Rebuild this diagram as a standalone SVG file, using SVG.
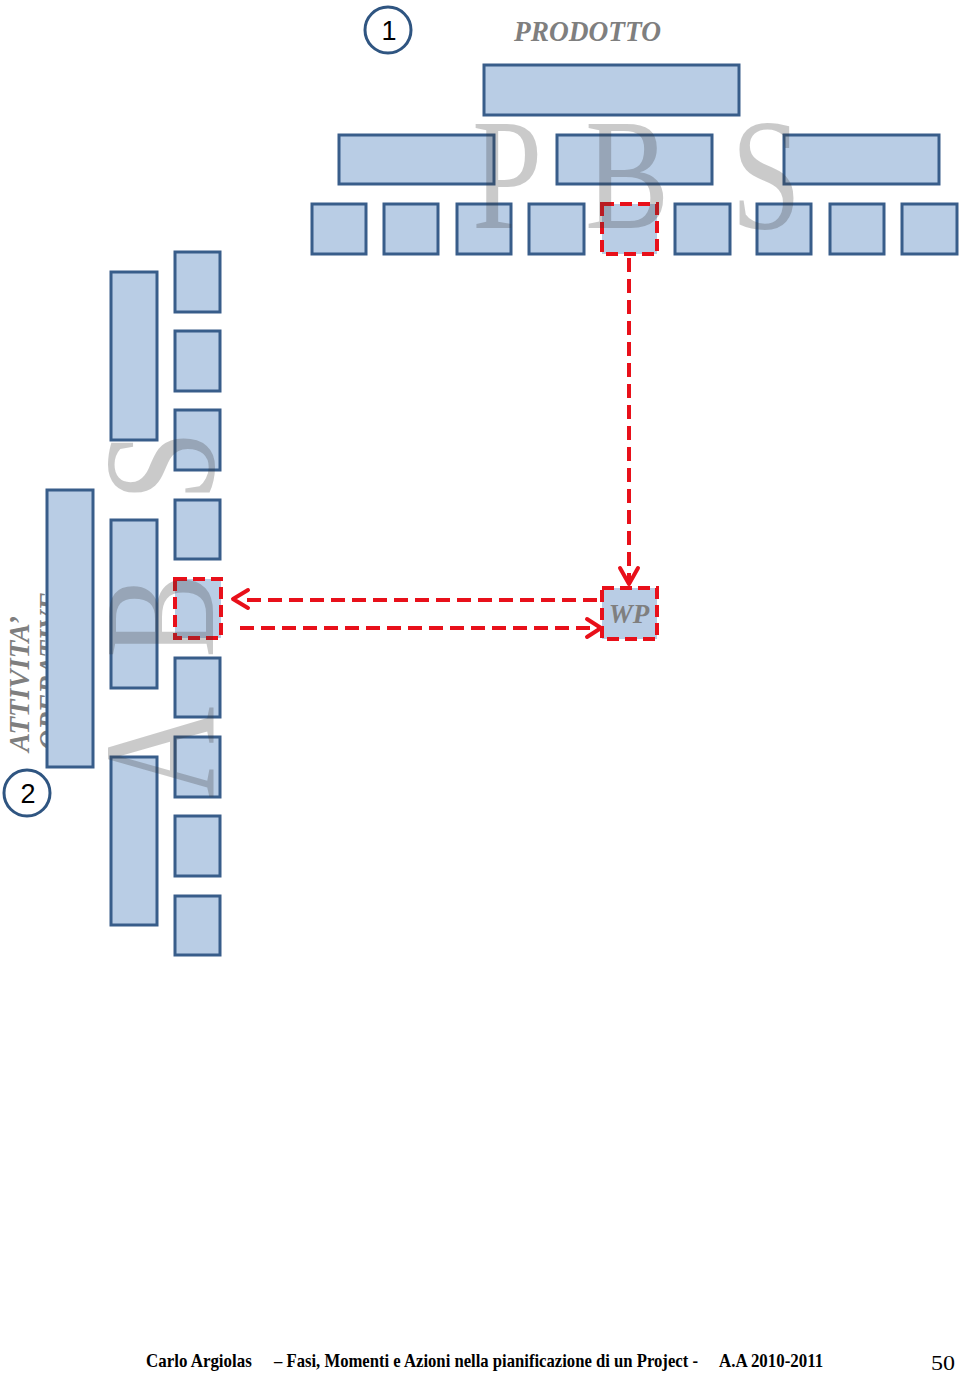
<svg xmlns="http://www.w3.org/2000/svg" width="960" height="1374" viewBox="0 0 960 1374">
<style>
.box{fill:#b9cde5;stroke:#385d8a;stroke-width:3}
.sel{fill:#b9cde5;stroke:#e8101a;stroke-width:4;stroke-dasharray:12 6}
.wm{font-family:"Liberation Serif",serif;font-size:158px;fill:#3a3a3a;fill-opacity:0.27}
.circ{fill:#ffffff;stroke:#2f5581;stroke-width:3}
.num{font-family:"Liberation Sans",Arial,sans-serif;font-size:27px;fill:#000;text-anchor:middle}
.ttl{font-family:"Liberation Serif",serif;font-weight:bold;font-style:italic;fill:#7f7f7f}
.con{fill:none;stroke:#e8101a;stroke-width:4;stroke-dasharray:14 7}
.head{fill:none;stroke:#e8101a;stroke-width:4;stroke-linecap:round;stroke-linejoin:round}
.foot{font-family:"Liberation Serif",serif;font-weight:bold;font-size:18px;fill:#000}
</style>
<rect width="960" height="1374" fill="#ffffff"/>

<g id="label-1"><circle class="circ" cx="388" cy="30" r="23"/><text class="num" x="389" y="40">1</text></g>
<g id="title-prodotto"><text class="ttl" x="514" y="41" font-size="30" textLength="147" lengthAdjust="spacingAndGlyphs">PRODOTTO</text></g>

<g id="label-2"><circle class="circ" cx="27" cy="793" r="23"/><text class="num" x="28" y="803">2</text></g>
<g id="title-attivita">
<text class="ttl" font-size="30" transform="translate(29,752) rotate(-90)" textLength="136" lengthAdjust="spacingAndGlyphs">ATTIVITA’</text>
<text class="ttl" font-size="30" transform="translate(59,750) rotate(-90)" textLength="158" lengthAdjust="spacingAndGlyphs">OPERATIVE</text>
</g>

<g id="pbs">
<rect id="p0" class="box" x="484" y="65" width="255" height="50"/>
<rect id="p1" class="box" x="339" y="135" width="155" height="49"/>
<rect id="p2" class="box" x="557" y="135" width="155" height="49"/>
<rect id="p3" class="box" x="784" y="135" width="155" height="49"/>
<rect id="p4" class="box" x="312" y="204" width="54" height="50"/>
<rect id="p5" class="box" x="384" y="204" width="54" height="50"/>
<rect id="p6" class="box" x="457" y="204" width="54" height="50"/>
<rect id="p7" class="box" x="529" y="204" width="55" height="50"/>
<rect id="p8" class="sel" x="602" y="204" width="55" height="50"/>
<rect id="p9" class="box" x="675" y="204" width="55" height="50"/>
<rect id="p10" class="box" x="757" y="204" width="54" height="50"/>
<rect id="p11" class="box" x="830" y="204" width="54" height="50"/>
<rect id="p12" class="box" x="902" y="204" width="55" height="50"/>
</g>

<g id="abs">
<rect id="a0" class="box" x="47" y="490" width="46" height="277"/>
<rect id="a1" class="box" x="111" y="272" width="46" height="168"/>
<rect id="a2" class="box" x="111" y="520" width="46" height="168"/>
<rect id="a3" class="box" x="111" y="757" width="46" height="168"/>
<rect id="a4" class="box" x="175" y="252" width="45" height="60"/>
<rect id="a5" class="box" x="175" y="331" width="45" height="60"/>
<rect id="a6" class="box" x="175" y="410" width="45" height="60"/>
<rect id="a7" class="box" x="175" y="500" width="45" height="59"/>
<rect id="a8" class="sel" x="175" y="579" width="46" height="59"/>
<rect id="a9" class="box" x="175" y="658" width="45" height="59"/>
<rect id="a10" class="box" x="175" y="737" width="45" height="60"/>
<rect id="a11" class="box" x="175" y="816" width="45" height="60"/>
<rect id="a12" class="box" x="175" y="896" width="45" height="59"/>
</g>

<g id="wp"><rect class="sel" x="602" y="588" width="55" height="51"/><text class="ttl" x="629" y="623" font-size="27" text-anchor="middle">WP</text></g>

<g id="watermarks">
<text class="wm" transform="translate(472,228) scale(0.8,1)">P</text>
<text class="wm" transform="translate(585,228) scale(0.8,1)">B</text>
<text class="wm" transform="translate(731,228) scale(0.8,1)">S</text>
<text class="wm" transform="translate(213,798) rotate(-90) scale(0.8,1)">A</text>
<text class="wm" transform="translate(213,658) rotate(-90) scale(0.8,1)">B</text>
<text class="wm" transform="translate(213,501) rotate(-90) scale(0.8,1)">S</text>
</g>

<g id="connectors">
<path class="con" d="M629,258 V582"/>
<path class="head" d="M620,568 L629,584 L638,568"/>
<path class="con" d="M597,600 H240"/>
<path class="head" d="M248,590 L233,599 L248,608"/>
<path class="con" d="M240,628 H598"/>
<path class="head" d="M587,619 L601,628 L587,637"/>
</g>

<g id="footer">
<text class="foot" transform="translate(146,1367) scale(0.82,1)" textLength="129" lengthAdjust="spacingAndGlyphs">Carlo Argiolas</text>
<text class="foot" transform="translate(274,1367) scale(0.82,1)" textLength="517" lengthAdjust="spacingAndGlyphs">– Fasi, Momenti e Azioni nella pianificazione di un Project -</text>
<text class="foot" transform="translate(719,1367) scale(0.82,1)" textLength="127" lengthAdjust="spacingAndGlyphs">A.A 2010-2011</text>
<text x="931" y="1370" font-family="Liberation Serif,serif" font-size="22" textLength="24" lengthAdjust="spacingAndGlyphs">50</text>
</g>
</svg>
